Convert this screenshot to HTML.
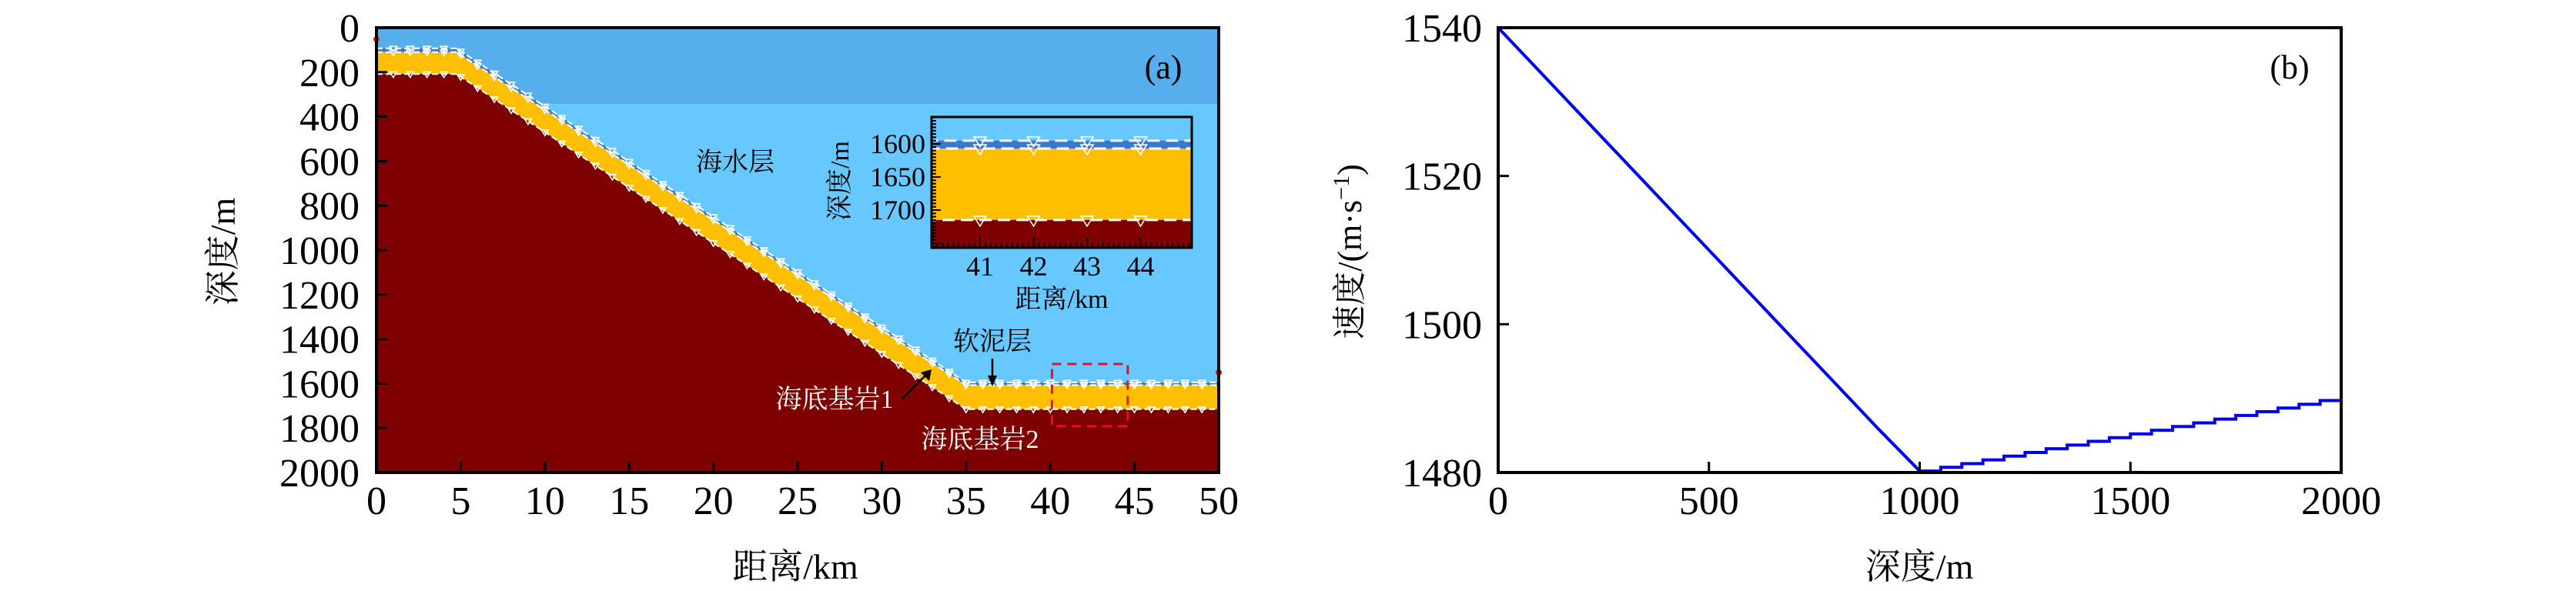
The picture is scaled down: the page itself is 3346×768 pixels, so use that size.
<!DOCTYPE html>
<html><head><meta charset="utf-8"><style>
html,body{margin:0;padding:0;background:#fff;}
svg{display:block;font-family:"Liberation Serif","Noto Serif CJK SC","Noto Sans CJK SC",serif;}
</style></head><body>
<svg id="fig" width="3346" height="768" viewBox="0 0 3346 768" xmlns="http://www.w3.org/2000/svg">
<defs>
<clipPath id="clipA"><rect x="489" y="36" width="1094" height="578"/></clipPath>
<clipPath id="clipI"><rect x="1210" y="152" width="338" height="170"/></clipPath>
</defs>
<g id="panelA"></g>
<g id="panelB"></g>
</svg>
<script>
// ---- Panel (a) data ----
const layerX = [0, 4.75, 35, 50];
const waterTopD = [93, 93, 1595, 1595];
const mudTopD = [110, 110, 1607, 1607];
const bedrockD = [208, 208, 1715, 1715];
const waterSplitD = 343;
const xTicksA = [0,5,10,15,20,25,30,35,40,45,50];
const yTicksA = [0,200,400,600,800,1000,1200,1400,1600,1800,2000];
const insetXTicks = [41,42,43,44];
const insetYTicks = [1600,1650,1700];
const zoomBox = [40.1, 44.6, 1512, 1792];
// ---- Panel (b) data ----
const depthDown = [0,100,200,300,400,500,600,700,800,900,1000];
const velDown = [1540,1534,1528,1522,1516,1510,1504,1498,1492,1486,1480.2];
const depthUp = [1000,1050,1100,1150,1200,1250,1300,1350,1400,1450,1500,1550,1600,1650,1700,1750,1800,1850,1900,1950,2000];
const velUp = [1480.2,1480.7,1481.2,1481.7,1482.2,1482.7,1483.2,1483.7,1484.2,1484.7,1485.2,1485.7,1486.2,1486.7,1487.2,1487.7,1488.2,1488.7,1489.2,1489.7,1490.3];
const xTicksB = [0,500,1000,1500,2000];
const yTicksB = [1480,1500,1520,1540];

const NS = "http://www.w3.org/2000/svg";
function mk(parent, tag, attrs, text){
  const e = document.createElementNS(NS, tag);
  for (const k in attrs) e.setAttribute(k, attrs[k]);
  if (text !== undefined) e.textContent = text;
  parent.appendChild(e);
  return e;
}
const XA = km => 489 + km * 1094 / 50;
const YA = d => 36 + d * 578 / 2000;
const XI = km => 1273 + (km - 41) * 69.5;
const YI = d => 187 + (d - 1600) * 0.86;
const XB = d => 1946 + d * 1095 / 2000;
const YB = v => 614 - (v - 1480) * 578 / 60;

function interp(xs, ys, x){
  for (let i=0;i<xs.length-1;i++){
    if (x>=xs[i] && x<=xs[i+1]) return ys[i]+(ys[i+1]-ys[i])*(x-xs[i])/(xs[i+1]-xs[i]);
  }
  return ys[ys.length-1];
}
function polyTop(ds, X, Y){ return layerX.map((x,i)=>X(x)+","+Y(ds[i])).join(" "); }
function bandPoly(top, bot, X, Y){
  const pts = [];
  layerX.forEach((x,i)=>pts.push(X(x)+","+Y(top[i])));
  for (let i=layerX.length-1;i>=0;i--) pts.push(X(layerX[i])+","+Y(bot[i]));
  return pts.join(" ");
}

function drawSection(g, X, Y, xmarks, triSize, bottomDepth){
  let r = mk(g,'rect',{x:X(0),y:Y(0),width:X(50)-X(0),height:Y(waterSplitD)-Y(0),fill:'#56aeec'});
  
  
  r = mk(g,'rect',{x:X(0),y:Y(waterSplitD),width:X(50)-X(0),height:Y(bottomDepth)-Y(waterSplitD),fill:'#66c8ff'});
  
  
  let p = mk(g,'polygon',{points:bandPoly(waterTopD, mudTopD, X, Y),fill:'#3a78d0'});
  
  
  p = mk(g,'polygon',{points:bandPoly(mudTopD, bedrockD, X, Y),fill:'#fdbf00'});
  
  
  const bot = layerX.map(()=>bottomDepth);
  p = mk(g,'polygon',{points:bandPoly(bedrockD, bot, X, Y),fill:'#7f0000'});
  
  
  [waterTopD, mudTopD, bedrockD].forEach((ds)=>{
    const l = mk(g,'polyline',{points:polyTop(ds,X,Y),fill:'none',stroke:'#fff','stroke-width':triSize>6?3:2.2,'stroke-dasharray':triSize>6?'16,8':'8,4'});
    
    
    xmarks.forEach(xk=>{
      const cx = X(xk), cy = Y(interp(layerX, ds, xk));
      const s = triSize;
      const t = mk(g,'polygon',{points:`${cx-s},${cy-s*0.6} ${cx+s},${cy-s*0.6} ${cx},${cy+s}`,fill:'none',stroke:'#fff','stroke-width':1.6});
      
      
    });
  });
}

// ---------- Panel A ----------
const gA = document.getElementById('panelA');
const gAc = mk(gA,'g',{'clip-path':'url(#clipA)'});


const marksA = []; for (let k=1;k<50;k++) marksA.push(k);
drawSection(gAc, XA, YA, marksA, 4.5, 2000);
let dot = mk(gA,'circle',{cx:XA(0),cy:YA(100)-14,r:4,fill:'#ff0000'});


dot = mk(gA,'circle',{cx:XA(50),cy:YA(1550),r:4,fill:'#ff0000'});


let zb = mk(gA,'rect',{x:XA(zoomBox[0]),y:YA(zoomBox[2]),width:XA(zoomBox[1])-XA(zoomBox[0]),height:YA(zoomBox[3])-YA(zoomBox[2]),fill:'none',stroke:'#e0141e','stroke-width':3,'stroke-dasharray':'12,8'});


let fr = mk(gA,'rect',{x:489,y:36,width:1094,height:578,fill:'none',stroke:'#000','stroke-width':4});


xTicksA.forEach(v=>{
  const t = mk(gA,'line',{x1:XA(v),x2:XA(v),y1:614,y2:600,stroke:'#000','stroke-width':3});
  
  
  const tx = mk(gA,'text',{x:XA(v),y:668,'font-size':52,'text-anchor':'middle'},String(v));
  
  
});
yTicksA.forEach(v=>{
  const t = mk(gA,'line',{x1:489,x2:503,y1:YA(v),y2:YA(v),stroke:'#000','stroke-width':3});
  
  
  const tx = mk(gA,'text',{x:467,y:YA(v)+18,'font-size':52,'text-anchor':'end'},String(v));
  
  
});
let lab = mk(gA,'text',{x:1033,y:752,'font-size':46,'text-anchor':'middle'},'距离/km');


lab = mk(gA,'text',{x:0,y:0,'font-size':46,'text-anchor':'middle',transform:'translate(305,327) rotate(-90)'},'深度/m');


lab = mk(gA,'text',{x:1511,y:102,'font-size':44,'text-anchor':'middle'},'(a)');


lab = mk(gA,'text',{x:955,y:222,'font-size':34,'text-anchor':'middle'},'海水层');


lab = mk(gA,'text',{x:1289,y:455,'font-size':34,'text-anchor':'middle'},'软泥层');


let ar = mk(gA,'line',{x1:1289,y1:466,x2:1289,y2:494,stroke:'#000','stroke-width':2.5});


ar = mk(gA,'polygon',{points:'1283,488 1295,488 1289,502',fill:'#000'});


lab = mk(gA,'text',{x:1084,y:530,'font-size':34,'text-anchor':'middle',fill:'#fff'},'海底基岩1');


ar = mk(gA,'line',{x1:1172,y1:518,x2:1203,y2:487,stroke:'#000','stroke-width':2.5});


ar = mk(gA,'polygon',{points:'1196,484 1207,495 1210,480',fill:'#000'});


lab = mk(gA,'text',{x:1273,y:582,'font-size':34,'text-anchor':'middle',fill:'#fff'},'海底基岩2');



// inset
const gI = mk(gA,'g',{});


const gIc = mk(gI,'g',{'clip-path':'url(#clipI)'});
drawSection(gIc, XI, YI, insetXTicks, 8, 1800);
let fi = mk(gI,'rect',{x:1210,y:152,width:338,height:170,fill:'none',stroke:'#000','stroke-width':3});


for (let k=401;k<=449;k++){
  const km = k/10; const major = k%10===0;
  const t = mk(gI,'line',{x1:XI(km),x2:XI(km),y1:322,y2:major?308:315,stroke:'#000','stroke-width':2});
  
  
}
for (let d=1560; d<=1755; d+=5){
  const major = d%50===0;
  const t = mk(gI,'line',{x1:1210,x2:major?1222:1216,y1:YI(d),y2:YI(d),stroke:'#000','stroke-width':2});
  
  
}
insetXTicks.forEach(v=>{
  const tx = mk(gI,'text',{x:XI(v),y:358,'font-size':36,'text-anchor':'middle'},String(v));
  
  
});
insetYTicks.forEach(v=>{
  const tx = mk(gI,'text',{x:1202,y:YI(v)+12,'font-size':36,'text-anchor':'end'},String(v));
  
  
});
lab = mk(gI,'text',{x:1379,y:400,'font-size':34,'text-anchor':'middle'},'距离/km');


lab = mk(gI,'text',{x:0,y:0,'font-size':34,'text-anchor':'middle',transform:'translate(1102,235) rotate(-90)'},'深度/m');



// ---------- Panel B ----------
const gB = document.getElementById('panelB');
let d = 'M' + XB(depthDown[0]) + ',' + YB(velDown[0]);
for (let i=1;i<depthDown.length;i++) d += ' L' + XB(depthDown[i]) + ',' + YB(velDown[i]);
for (let i=1;i<depthUp.length;i++){
  d += ' L' + XB(depthUp[i]) + ',' + YB(velUp[i-1]);
  d += ' L' + XB(depthUp[i]) + ',' + YB(velUp[i]);
}
let sp = mk(gB,'path',{d:d,fill:'none',stroke:'#0000ee','stroke-width':4});


fr = mk(gB,'rect',{x:1946,y:36,width:1095,height:578,fill:'none',stroke:'#000','stroke-width':4});


xTicksB.forEach(v=>{
  const t = mk(gB,'line',{x1:XB(v),x2:XB(v),y1:614,y2:600,stroke:'#000','stroke-width':3});
  
  
  const tx = mk(gB,'text',{x:XB(v),y:668,'font-size':52,'text-anchor':'middle'},String(v));
  
  
});
yTicksB.forEach(v=>{
  const t = mk(gB,'line',{x1:1946,x2:1960,y1:YB(v),y2:YB(v),stroke:'#000','stroke-width':3});
  
  
  const tx = mk(gB,'text',{x:1925,y:YB(v)+18,'font-size':52,'text-anchor':'end'},String(v));
  
  
});
lab = mk(gB,'text',{x:2493,y:752,'font-size':46,'text-anchor':'middle'},'深度/m');


lab = mk(gB,'text',{x:0,y:0,'font-size':44,'text-anchor':'middle',transform:'translate(1768,327) rotate(-90)'});


lab.innerHTML = '速度/(m·s<tspan dy="-16" font-size="30">−1</tspan><tspan dy="16">)</tspan>';
lab = mk(gB,'text',{x:2974,y:102,'font-size':44,'text-anchor':'middle'},'(b)');


</script>
</body></html>
